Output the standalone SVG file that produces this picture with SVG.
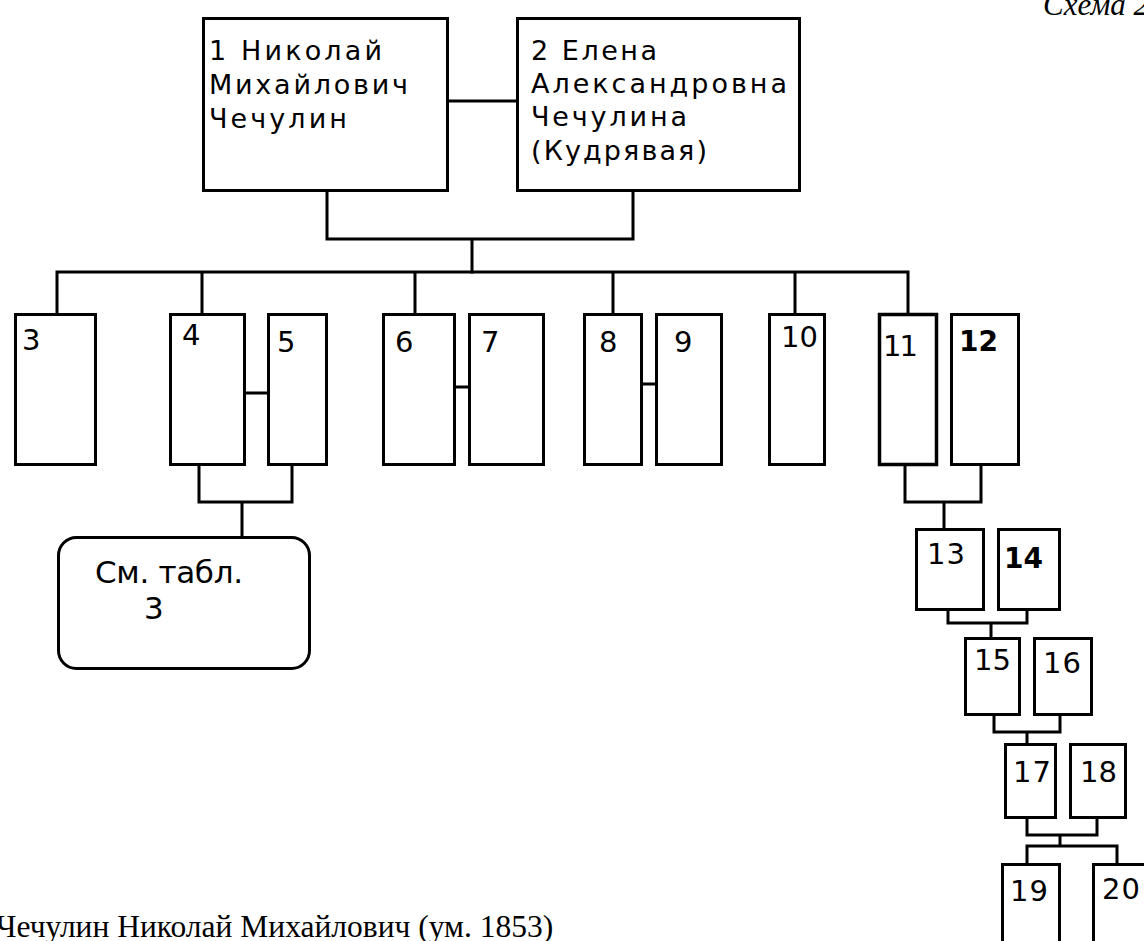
<svg xmlns="http://www.w3.org/2000/svg" width="1144" height="941" viewBox="0 0 1144 941">
<style>
.box{fill:#fff;stroke:#000;stroke-width:3}
.ln{fill:none;stroke:#000;stroke-width:3;stroke-linecap:square}
.t{font-family:"DejaVu Sans","Liberation Sans",sans-serif;font-size:27px;fill:#000}
.n{font-family:"DejaVu Sans","Liberation Sans",sans-serif;font-size:29px;fill:#000}
.b{font-weight:bold}
.tm{font-family:"Liberation Serif","Times New Roman",serif;fill:#000}
</style>
<rect width="1144" height="941" fill="#fff"/>
<text class="tm" x="1043" y="15" font-size="31" font-style="italic">Схема 2</text>
<g id="connectors">
<path class="ln" d="M449 101H516"/>
<path class="ln" d="M327 192V239H633V192M472 239V272"/>
<path class="ln" d="M57 313V272H908V313M202 272V313M415 272V313M613 272V313M795 272V313"/>
<path class="ln" d="M246 393H267M456 387H468M643 384H655"/>
<path class="ln" d="M199 466V502H292V466M242 502V536"/>
<path class="ln" d="M905 466V502H981V466M944 502V528"/>
<path class="ln" d="M948 611V623H1027V611M991 623V637"/>
<path class="ln" d="M994 716V732H1060V716M1027 732V743"/>
<path class="ln" d="M1027 819V835H1097V819M1060 835V846M1027 863V846H1117V863"/>
</g>
<g id="n1"><rect class="box" x="203.5" y="18.5" width="244" height="172"/>
<text class="t" x="209" y="60" textLength="173" lengthAdjust="spacing">1 Николай</text>
<text class="t" x="209" y="94" textLength="199" lengthAdjust="spacing">Михайлович</text>
<text class="t" x="209" y="128" textLength="138" lengthAdjust="spacing">Чечулин</text></g>
<g id="n2"><rect class="box" x="517.5" y="18.5" width="282" height="172"/>
<text class="t" x="531" y="60" textLength="126" lengthAdjust="spacing">2 Елена</text>
<text class="t" x="531" y="93" textLength="256" lengthAdjust="spacing">Александровна</text>
<text class="t" x="531" y="126" textLength="156" lengthAdjust="spacing">Чечулина</text>
<text class="t" x="531" y="160" textLength="176" lengthAdjust="spacing">(Кудрявая)</text></g>
<g id="n3"><rect class="box" x="15.5" y="314.5" width="80" height="150"/><text class="n" x="22" y="350">3</text></g>
<g id="n4"><rect class="box" x="170.5" y="314.5" width="74" height="150"/><text class="n" x="182" y="345">4</text></g>
<g id="n5"><rect class="box" x="268.5" y="314.5" width="58" height="150"/><text class="n" x="277" y="352">5</text></g>
<g id="n6"><rect class="box" x="383.5" y="314.5" width="71" height="150"/><text class="n" x="395" y="352">6</text></g>
<g id="n7"><rect class="box" x="469.5" y="314.5" width="74" height="150"/><text class="n" x="481" y="352">7</text></g>
<g id="n8"><rect class="box" x="584.5" y="314.5" width="57" height="150"/><text class="n" x="599" y="352">8</text></g>
<g id="n9"><rect class="box" x="656.5" y="314.5" width="65" height="150"/><text class="n" x="674" y="352">9</text></g>
<g id="n10"><rect class="box" x="769.5" y="314.5" width="55" height="150"/><text class="n" x="781" y="347" textLength="37" lengthAdjust="spacing">10</text></g>
<g id="n11"><rect class="box" x="879.5" y="314.5" width="57" height="150" style="stroke-width:3.5"/><text class="n" x="883" y="356" textLength="35" lengthAdjust="spacing">11</text></g>
<g id="n12"><rect class="box" x="951.5" y="314.5" width="67" height="150"/><text class="n b" x="959" y="351" textLength="39" lengthAdjust="spacingAndGlyphs">12</text></g>
<g id="n-table3"><rect x="58.5" y="537.5" width="251" height="131" rx="18" fill="#fff" stroke="#000" stroke-width="3"/>
<text class="t" style="font-size:31px" x="95" y="583" textLength="148" lengthAdjust="spacing">См. табл.</text>
<text class="t" style="font-size:31px" x="144" y="619">3</text></g>
<g id="n13"><rect class="box" x="916.5" y="529.5" width="67" height="80"/><text class="n" x="927" y="564" textLength="38" lengthAdjust="spacing">13</text></g>
<g id="n14"><rect class="box" x="998.5" y="529.5" width="61" height="80"/><text class="n b" x="1004" y="568" textLength="39" lengthAdjust="spacingAndGlyphs">14</text></g>
<g id="n15"><rect class="box" x="965.5" y="638.5" width="54" height="76"/><text class="n" x="974" y="670" textLength="37" lengthAdjust="spacing">15</text></g>
<g id="n16"><rect class="box" x="1034.5" y="638.5" width="57" height="76"/><text class="n" x="1043" y="673" textLength="38" lengthAdjust="spacing">16</text></g>
<g id="n17"><rect class="box" x="1005.5" y="744.5" width="50" height="73"/><text class="n" x="1013" y="782" textLength="38" lengthAdjust="spacing">17</text></g>
<g id="n18"><rect class="box" x="1070.5" y="744.5" width="55" height="73"/><text class="n" x="1080" y="782" textLength="37" lengthAdjust="spacing">18</text></g>
<g id="n19"><rect class="box" x="1002.5" y="864.5" width="57" height="100"/><text class="n" x="1010" y="901" textLength="38" lengthAdjust="spacing">19</text></g>
<g id="n20"><rect class="box" x="1093.5" y="864.5" width="70" height="100"/><text class="n" x="1102" y="899" textLength="38" lengthAdjust="spacing">20</text></g>
<text class="tm" x="-4" y="937" font-size="31.5">Чечулин Николай Михайлович (ум. 1853)</text>
</svg>
